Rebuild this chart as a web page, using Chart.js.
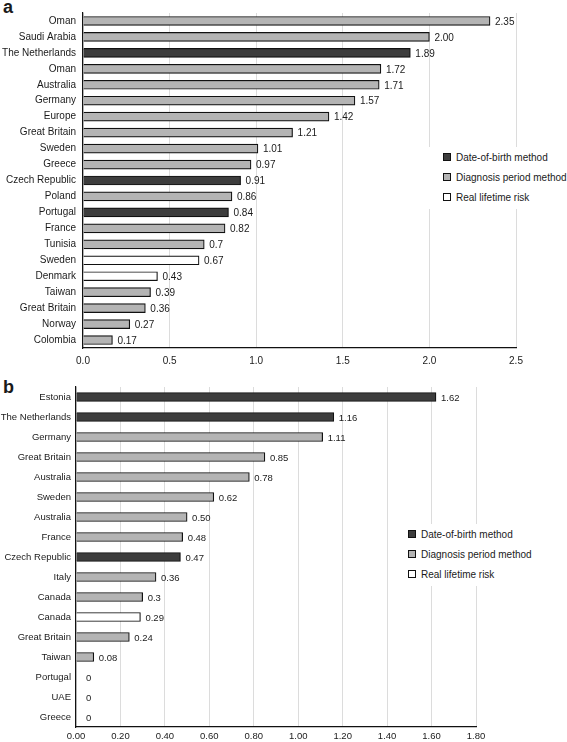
<!DOCTYPE html>
<html>
<head>
<meta charset="utf-8">
<script src="https://cdn.jsdelivr.net/npm/chart.js@4"></script>
<style>
    body { margin: 0; background: #fff; }
    #wrap { position: relative; width: 567px; height: 742px; font-family: "Liberation Sans", Arial, sans-serif; color: #1a1a1a; }
    .panel { position: absolute; left: 0; width: 567px; }
    .tag { position: absolute; left: 3px; font-weight: bold; font-size: 18px; line-height: 1; }
    .legend { position: absolute; background: #fff; font-size: 10px; }
    .legend div { height: 20px; line-height: 20px; white-space: nowrap; }
    .legend span { display: inline-block; width: 6px; height: 6px; border: 1px solid #111; margin-right: 5px; }
</style>
</head>
<body>
<div id="wrap">
    <div class="tag" style="top: -2px;">a</div>
    <div class="panel" style="top: 0; height: 372px;"><canvas id="chart-a"></canvas></div>
    <div class="legend" id="legend-a" style="left: 428px; top: 147px; width: 139px; padding-left: 15px; padding-top: 1px; box-sizing: border-box; height: 62px;"></div>

    <div class="tag" style="top: 378px;">b</div>
    <div class="panel" style="top: 376px; height: 366px;"><canvas id="chart-b"></canvas></div>
    <div class="legend" id="legend-b" style="left: 398px; top: 524px; width: 169px; padding-left: 10px; padding-top: 1px; box-sizing: border-box; height: 62px;"></div>
</div>

<script>
// panel a
const countriesA = ["Oman", "Saudi Arabia", "The Netherlands", "Oman", "Australia", "Germany", "Europe",
    "Great Britain", "Sweden", "Greece", "Czech Republic", "Poland", "Portugal", "France", "Tunisia",
    "Sweden", "Denmark", "Taiwan", "Great Britain", "Norway", "Colombia"];
const valuesA = [2.35, 2.00, 1.89, 1.72, 1.71, 1.57, 1.42, 1.21, 1.01, 0.97, 0.91, 0.86, 0.84, 0.82, 0.7,
    0.67, 0.43, 0.39, 0.36, 0.27, 0.17];
const valueTextA = ["2.35", "2.00", "1.89", "1.72", "1.71", "1.57", "1.42", "1.21", "1.01", "0.97", "0.91",
    "0.86", "0.84", "0.82", "0.7", "0.67", "0.43", "0.39", "0.36", "0.27", "0.17"];
const methodA = ["D", "D", "B", "D", "D", "D", "D", "D", "D", "D", "B", "D", "B", "D", "D",
    "R", "R", "D", "D", "D", "D"];
const ticksA = ["0.0", "0.5", "1.0", "1.5", "2.0", "2.5"];

// panel b
const countriesB = ["Estonia", "The Netherlands", "Germany", "Great Britain", "Australia", "Sweden",
    "Australia", "France", "Czech Republic", "Italy", "Canada", "Canada", "Great Britain", "Taiwan",
    "Portugal", "UAE", "Greece"];
const valuesB = [1.62, 1.16, 1.11, 0.85, 0.78, 0.62, 0.50, 0.48, 0.47, 0.36, 0.3, 0.29, 0.24, 0.08, 0, 0, 0];
const valueTextB = ["1.62", "1.16", "1.11", "0.85", "0.78", "0.62", "0.50", "0.48", "0.47", "0.36", "0.3",
    "0.29", "0.24", "0.08", "0", "0", "0"];
const methodB = ["B", "B", "D", "D", "D", "D", "D", "D", "B", "D", "D", "R", "D", "D", "D", "D", "D"];
const ticksB = ["0.00", "0.20", "0.40", "0.60", "0.80", "1.00", "1.20", "1.40", "1.60", "1.80"];

// legend
const methodNames = { B: "Date-of-birth method", D: "Diagnosis period method", R: "Real lifetime risk" };
const methodColors = { B: "#3d3d3d", D: "#b4b4b4", R: "#ffffff" };

const FAMILY = "'Liberation Sans', Arial, sans-serif";

// draws the value text right of each bar
const valueLabels = {
    id: "valueLabels",
    afterDatasetsDraw(chart) {
        const ctx = chart.ctx;
        const cfg = chart.options.plugins.valueLabels;
        const meta = chart.getDatasetMeta(0);
        ctx.save();
        ctx.font = `${cfg.size}px ${FAMILY}`;
        ctx.fillStyle = "#1a1a1a";
        ctx.textAlign = "left";
        ctx.textBaseline = "middle";
        meta.data.forEach((bar, i) => {
            const gap = bar.x - bar.base < 1 ? 10 : 5; // zero bars sit a bit further out
            ctx.fillText(cfg.texts[i], bar.x + gap, bar.y + 1);
        });
        ctx.restore();
    },
};

function makeChart(id, labels, values, texts, methods, tickText, max, step, opt) {
    const font = { family: FAMILY, size: opt.fontSize };
    new Chart(document.getElementById(id), {
        type: "bar",
        data: {
            labels,
            datasets: [{
                data: values,
                backgroundColor: methods.map((m) => methodColors[m]),
                borderColor: "#111",
                borderWidth: 1.2,
                barThickness: opt.bar,
            }],
        },
        plugins: [valueLabels],
        options: {
            indexAxis: "y",
            responsive: true,
            maintainAspectRatio: false,
            animation: false,
            layout: { padding: opt.padding },
            plugins: {
                legend: { display: false },
                tooltip: { enabled: false },
                valueLabels: { texts, size: opt.fontSize },
            },
            scales: {
                x: {
                    min: 0,
                    max: max,
                    ticks: {
                        stepSize: step,
                        font,
                        color: "#1a1a1a",
                        padding: opt.tickPad,
                        maxRotation: 0,
                        autoSkip: false,
                        callback: (v, i) => tickText[i],
                    },
                    grid: { color: "#dcdcdc", drawTicks: false },
                    border: { color: "#111", width: 1.2 },
                    afterFit: (scale) => { scale.height = opt.xh; },
                },
                y: {
                    ticks: { font, color: "#1a1a1a", padding: opt.labelPad, autoSkip: false },
                    grid: { display: false, drawTicks: false },
                    border: { color: "#111", width: 1.2 },
                    afterFit: (scale) => { scale.width = opt.yw; },
                },
            },
        },
    });
}

function fillLegend(id) {
    const box = document.getElementById(id);
    ["B", "D", "R"].forEach((m) => {
        const row = document.createElement("div");
        const sq = document.createElement("span");
        sq.style.background = methodColors[m];
        row.appendChild(sq);
        row.appendChild(document.createTextNode(methodNames[m]));
        box.appendChild(row);
    });
}

makeChart("chart-a", countriesA, valuesA, valueTextA, methodA, ticksA, 2.5, 0.5,
    { padding: { top: 8, right: 51, bottom: 0, left: 0 }, xh: 24, yw: 83, tickPad: 7, bar: 9, fontSize: 10, labelPad: 7 });
makeChart("chart-b", countriesB, valuesB, valueTextB, methodB, ticksB, 1.8, 0.2,
    { padding: { top: 11, right: 91, bottom: 0, left: 0 }, xh: 15, yw: 76, tickPad: 4, bar: 9, fontSize: 9.5, labelPad: 5 });

fillLegend("legend-a");
fillLegend("legend-b");
</script>
</body>
</html>
